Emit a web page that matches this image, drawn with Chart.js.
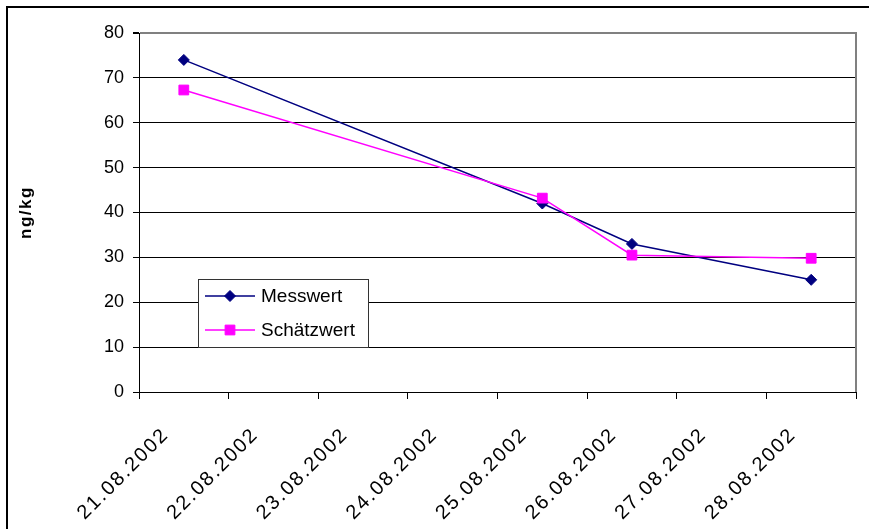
<!DOCTYPE html>
<html lang="de">
<head>
    <meta charset="UTF-8">
    <title>Messwert / Schätzwert (ng/kg)</title>
    <script src="https://cdn.jsdelivr.net/npm/chart.js"></script>
    <style>
        body {
            margin: 0;
            padding: 0;
            background-color: #fff;
        }

        .wrap {
            width: 869px;
            height: 529px;
        }
    </style>
</head>
<body>
    <div class="wrap">
        <canvas id="chart" width="869" height="529"></canvas>
    </div>

    <script>
        // data
        const dates = ['21.08.2002', '22.08.2002', '23.08.2002', '24.08.2002',
                       '25.08.2002', '26.08.2002', '27.08.2002', '28.08.2002'];
        const messwert = [74, null, null, null, 42, 33, null, 25];
        const schaetzwert = [67.3, null, null, null, 43.2, 30.5, null, 29.8];
        const seriesNames = ['Messwert', 'Schätzwert'];
        const yMin = 0, yMax = 80, yStep = 10;

        const FONT = '"Liberation Sans", Arial, sans-serif';

        // wraps a scale draw method so its text gets some letter spacing (Excel look)
        function spaced(scale, method, spacing) {
            if (scale['_sp_' + method]) return;
            const orig = scale[method];
            scale[method] = function (area) {
                const c = this.ctx;
                c.save();
                c.letterSpacing = spacing;
                orig.call(this, area);
                c.restore();
            };
            scale['_sp_' + method] = true;
        }

        const excelLook = {
            id: 'excelLook',
            afterLayout(chart) {
                spaced(chart.scales.x, 'drawLabels', '2px');
                spaced(chart.scales.y, 'drawTitle', '1.5px');
            },
            beforeDraw(chart) {
                const ctx = chart.ctx;
                ctx.save();
                ctx.fillStyle = '#fff';
                ctx.fillRect(0, 0, chart.width, chart.height);
                ctx.restore();
            },
            beforeDatasetsDraw(chart) {
                // plot area border on the right
                const {ctx, chartArea: a} = chart;
                ctx.save();
                ctx.strokeStyle = '#808080';
                ctx.lineWidth = 2;
                ctx.beginPath();
                ctx.moveTo(a.right, a.top - 1);
                ctx.lineTo(a.right, a.bottom);
                ctx.stroke();
                ctx.restore();
            },
            afterDraw(chart) {
                const ctx = chart.ctx;
                ctx.save();

                // outer chart frame
                ctx.strokeStyle = '#000';
                ctx.lineWidth = 2;
                ctx.strokeRect(7, 7, 1000, 1000);

                // legend box
                const bx = 198.5, by = 279.5, bw = 170, bh = 68;
                ctx.fillStyle = '#fff';
                ctx.fillRect(bx, by, bw, bh);
                ctx.strokeStyle = '#333';
                ctx.lineWidth = 1;
                ctx.strokeRect(bx, by, bw, bh);

                chart.data.datasets.forEach((ds, i) => {
                    const y = 296 + i * 34;
                    ctx.strokeStyle = ds.borderColor;
                    ctx.lineWidth = ds.borderWidth;
                    ctx.beginPath();
                    ctx.moveTo(205, y);
                    ctx.lineTo(255, y);
                    ctx.stroke();

                    ctx.fillStyle = ds.pointBackgroundColor;
                    ctx.strokeStyle = ds.pointBorderColor;
                    ctx.lineWidth = ds.pointBorderWidth;
                    Chart.helpers.drawPoint(ctx, {
                        pointStyle: ds.pointStyle,
                        radius: ds.pointRadius,
                        borderWidth: ds.pointBorderWidth
                    }, 230, y);

                    ctx.fillStyle = '#000';
                    ctx.font = '19px ' + FONT;
                    ctx.textAlign = 'left';
                    ctx.textBaseline = 'middle';
                    ctx.fillText(ds.label, 261, y + 1);
                });
                ctx.restore();
            }
        };

        new Chart(document.getElementById('chart'), {
            type: 'line',
            data: {
                labels: dates,
                datasets: [{
                    label: seriesNames[0],
                    data: messwert,
                    borderColor: '#000080',
                    backgroundColor: '#000080',
                    borderWidth: 1.5,
                    pointStyle: 'rectRot',
                    pointRadius: 5.5,
                    pointBackgroundColor: '#000080',
                    pointBorderColor: '#000080',
                    pointBorderWidth: 1,
                    spanGaps: true,
                    tension: 0,
                    order: 1
                }, {
                    label: seriesNames[1],
                    data: schaetzwert,
                    borderColor: '#FF00FF',
                    backgroundColor: '#FF00FF',
                    borderWidth: 1.5,
                    pointStyle: 'rect',
                    pointRadius: 6.9,
                    pointBackgroundColor: '#FF00FF',
                    pointBorderColor: '#FF00FF',
                    pointBorderWidth: 1,
                    spanGaps: true,
                    tension: 0,
                    order: 0
                }]
            },
            options: {
                responsive: false,
                animation: false,
                layout: {
                    padding: {top: 33, right: 13, left: 0, bottom: 0}
                },
                plugins: {
                    legend: {display: false},
                    tooltip: {enabled: false}
                },
                scales: {
                    x: {
                        offset: true,
                        grid: {
                            offset: true,
                            drawOnChartArea: false,
                            drawTicks: true,
                            tickLength: 7,
                            color: '#000'
                        },
                        border: {color: '#000', width: 1},
                        ticks: {
                            color: '#000',
                            font: {family: FONT, size: 20},
                            minRotation: 45,
                            maxRotation: 45,
                            autoSkip: false,
                            padding: 24,
                            labelOffset: -18
                        },
                        afterFit: s => { s.height = 137; }
                    },
                    y: {
                        min: yMin,
                        max: yMax,
                        grid: {
                            color: c => (c.tick && c.tick.value === yMax) ? '#808080' : '#000',
                            lineWidth: c => (c.tick && c.tick.value === yMax) ? 2 : 1,
                            tickColor: '#000',
                            tickLength: 6
                        },
                        border: {color: '#000', width: 1},
                        ticks: {
                            stepSize: yStep,
                            color: '#000',
                            font: {family: FONT, size: 18},
                            padding: 9
                        },
                        title: {
                            display: true,
                            text: 'ng/kg',
                            color: '#000',
                            font: {family: FONT, size: 17, weight: 'bold'},
                            padding: {top: 16, bottom: 0}
                        },
                        afterFit: s => { s.width = 139; }
                    }
                }
            },
            plugins: [excelLook]
        });
    </script>
</body>
</html>
